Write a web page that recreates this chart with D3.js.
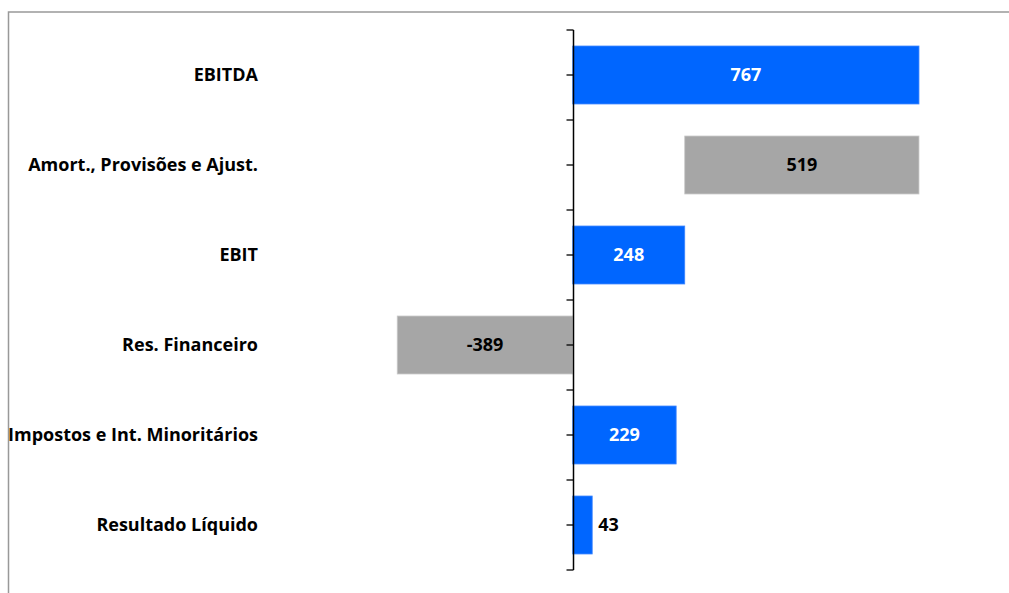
<!DOCTYPE html>
<html>
<head>
<meta charset="utf-8">
<script src="https://cdn.jsdelivr.net/npm/d3@7"></script>
<style>
  html, body { margin: 0; padding: 0; background: #fff; }
  svg { display: block; }
  text { font-family: "Open Sans", Lato, sans-serif; font-weight: bold; }
</style>
</head>
<body>
<svg id="chart" width="1009" height="593"></svg>
<script>
// Data
const categories = ["EBITDA", "Amort., Provisões e Ajust.", "EBIT", "Res. Financeiro", "Impostos e Int. Minoritários", "Resultado Líquido"];
const values = [767, 519, 248, -389, 229, 43];      // displayed values
const bases = [0, 248, 0, 0, 0, 0];                // where each bar starts
const kinds = ["result", "adjust", "result", "adjust", "result", "result"];
const labelInside = [true, true, true, true, true, false];

const W = 1009, H = 593;
const svg = d3.select("#chart");

// outer frame
svg.append("path")
  .attr("d", `M8.5,${H} L8.5,12 L${W},12`)
  .attr("fill", "none").attr("stroke", "#999").attr("stroke-width", 1.5);

const x = d3.scaleLinear().domain([-600, 900]).range([302, 979]);
const y = d3.scaleBand().domain(categories).range([30, 570]).paddingInner(0.356).paddingOuter(0.178);

const colors = { result: "#0066FF", adjust: "#A6A6A6" };
const strokes = { result: "#3d85ff", adjust: "#c8c8c8" };

const data = categories.map((c, i) => {
  const a = bases[i];
  const b = bases[i] + values[i];
  return { c, v: values[i], lo: Math.min(a, b), hi: Math.max(a, b), kind: kinds[i], inside: labelInside[i] };
});

// bars
svg.append("g").selectAll("rect").data(data).join("rect")
  .attr("x", d => x(d.lo))
  .attr("y", d => y(d.c))
  .attr("width", d => x(d.hi) - x(d.lo))
  .attr("height", y.bandwidth())
  .attr("fill", d => colors[d.kind])
  .attr("stroke", d => strokes[d.kind])
  .attr("stroke-width", 0.8);

// axis line at zero with ticks at band edges and centers
const x0 = Math.round(x(0)) + 0.5;
const axisG = svg.append("g");
axisG.append("line").attr("x1", x0).attr("x2", x0).attr("y1", 30).attr("y2", 570)
  .attr("stroke", "#000").attr("stroke-width", 1.5);
const step = y.step();
const tickYs = [];
for (let k = 0; k <= categories.length * 2; k++) tickYs.push(30 + k * step / 2);
axisG.selectAll(".tk").data(tickYs).join("line")
  .attr("x1", x0 - 7).attr("x2", x0)
  .attr("y1", d => d).attr("y2", d => d)
  .attr("stroke", "#000").attr("stroke-width", 1.3);

// category labels
svg.append("g").selectAll("text").data(categories).join("text")
  .attr("x", 258)
  .attr("y", d => y(d) + y.bandwidth() / 2)
  .attr("dy", "0.36em")
  .attr("text-anchor", "end")
  .attr("font-size", 18)
  .attr("fill", "#000")
  .text(d => d);

// value labels
svg.append("g").selectAll("text").data(data).join("text")
  .attr("x", d => d.inside ? (x(d.lo) + x(d.hi)) / 2 : x(d.hi) + 6)
  .attr("y", d => y(d.c) + y.bandwidth() / 2)
  .attr("dy", "0.36em")
  .attr("text-anchor", d => d.inside ? "middle" : "start")
  .attr("font-size", 18)
  .attr("fill", d => d.inside && d.kind === "result" ? "#fff" : "#000")
  .text(d => d.v);
</script>
</body>
</html>
